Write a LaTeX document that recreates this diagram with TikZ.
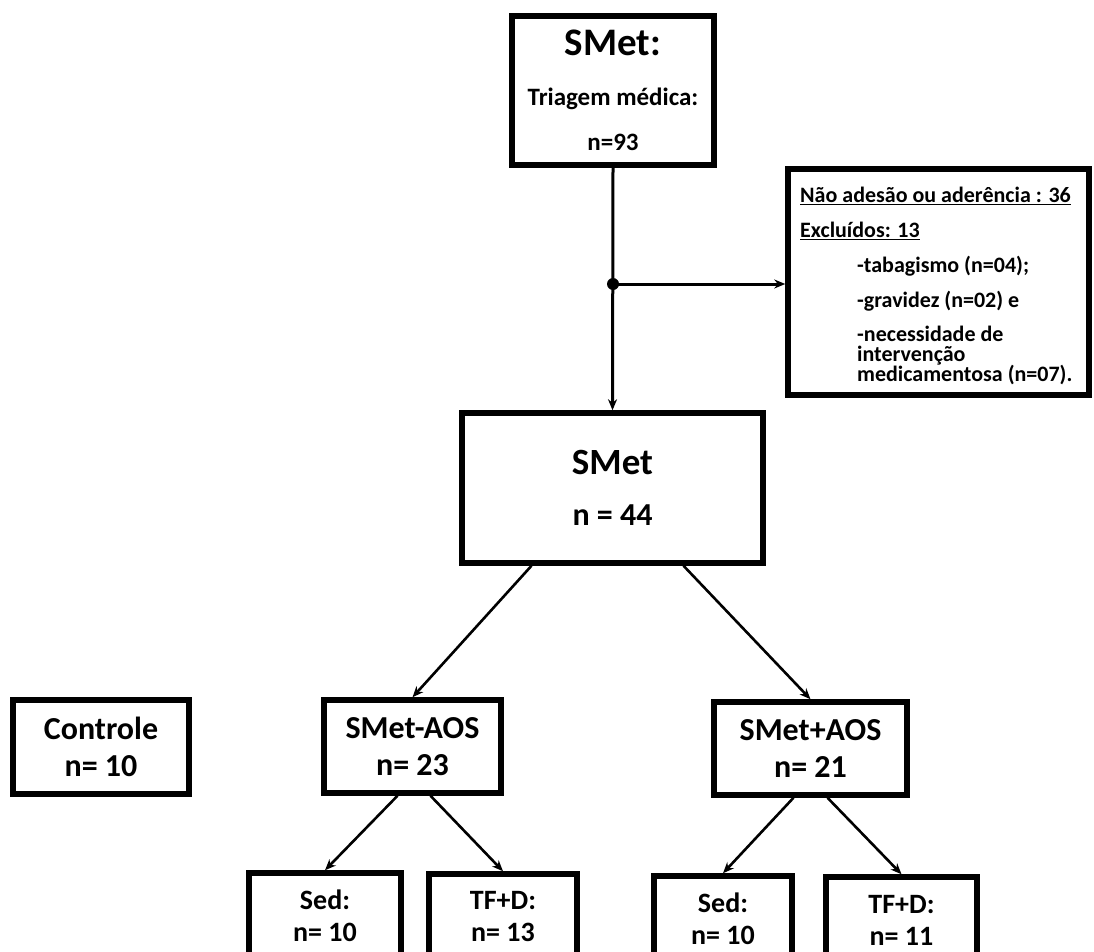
\documentclass[tikz,border=0pt]{standalone}
\usepackage{fontspec}
\setmainfont{Carlito}
\usetikzlibrary{arrows.meta}
\newcommand\tightskip{\lineskiplimit=-50pt\relax}
\tikzset{
	box/.style = {draw=black, line width=5.5pt, inner sep=0pt, align=center},
	arr/.style = {line width=2.6pt, -{Stealth[length=11pt,width=9pt]}},
	big/.style = {font=\bfseries\fontsize{32}{37}\selectfont},
	small/.style = {font=\bfseries\fontsize{28}{32}\selectfont}
}

\begin{document}
\begin{tikzpicture}[x=1pt, y=-1pt]
\useasboundingbox (0,0) rectangle (1094,952);

% NODES
\node (triagem) [box, minimum width=202, minimum height=149, font=\bfseries\fontsize{25}{45}\selectfont] at (613,90.5)
	{{\fontsize{39}{39}\selectfont SMet:}\\[5pt] Triagem médica:\\ n=93};
\node (excl) [box, minimum width=301, minimum height=226] at (938.5,282) {};
\node (excltxt) [anchor=north west, inner sep=0pt, align=left,
	font=\bfseries\fontsize{22}{20}\selectfont\tightskip] at (800,187)
	{\underline{Não adesão ou aderência : 36}\\[15pt]
	 \underline{Excluídos: 13}\\[15pt]
	 \hspace*{57pt}-tabagismo (n=04);\\[15pt]
	 \hspace*{57pt}-gravidez (n=02) e\\[14pt]
	 \hspace*{57pt}-necessidade de\\
	 \hspace*{57pt}intervenção\\
	 \hspace*{57pt}medicamentosa (n=07).};
\node (smet) [box, minimum width=301, minimum height=150, font=\bfseries\fontsize{32}{51}\selectfont] at (612.5,488)
	{{\fontsize{37}{37}\selectfont SMet}\\ n = 44};
\node (controle) [box, big, minimum width=176, minimum height=94] at (101,747) {Controle\\ n= 10};
\node (smeta) [box, big, minimum width=177, minimum height=93] at (412.5,746.5) {SMet-AOS\\ n= 23};
\node (smetb) [box, big, minimum width=193, minimum height=93] at (810.5,748.5) {SMet+AOS\\ n= 21};
\node (seda) [box, small, minimum width=152, minimum height=86] at (325,916) {Sed:\\ n= 10};
\node (tfda) [box, small, minimum width=148, minimum height=86] at (503,917) {TF+D:\\ n= 13};
\node (sedb) [box, small, minimum width=138, minimum height=86] at (723,919) {Sed:\\ n= 10};
\node (tfdb) [box, small, minimum width=151, minimum height=86] at (901.5,920) {TF+D:\\ n= 11};
\coordinate (junc) at (613,284);

%CONNECTIONS
\draw [arr, line width=3pt] (triagem.south) -- (smet.north);
\fill (junc) circle (6);
\draw [arr, line width=3pt] (junc) -- (junc -| excl.west);
\draw [arr] ([xshift=-81pt]smet.south) -- (smeta.north);
\draw [arr] ([xshift=71pt]smet.south) -- (smetb.north);
\draw [arr] ([xshift=-15pt]smeta.south) -- (seda.north);
\draw [arr] ([xshift=18pt]smeta.south) -- (tfda.north);
\draw [arr] ([xshift=-17pt]smetb.south) -- (sedb.north);
\draw [arr] ([xshift=17pt]smetb.south) -- (tfdb.north);

\end{tikzpicture}
\end{document}
